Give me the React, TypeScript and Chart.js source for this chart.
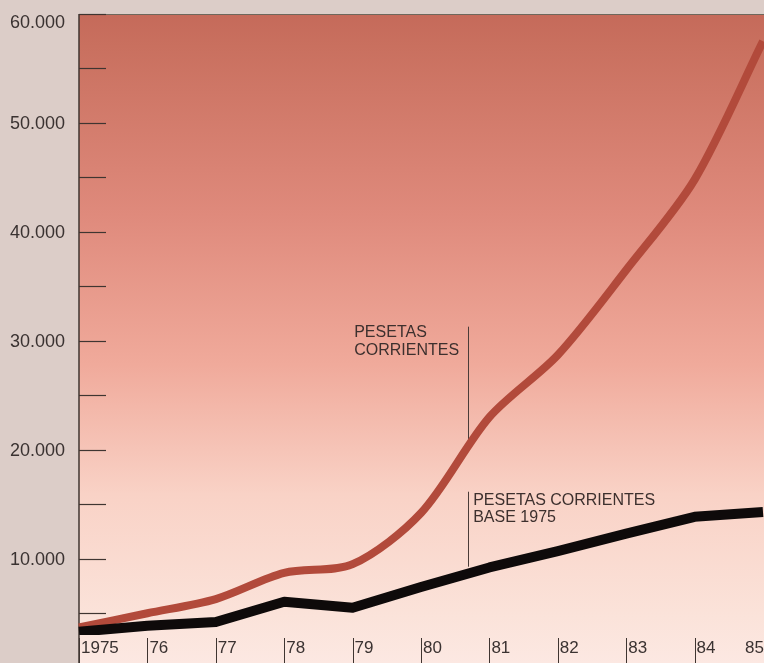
import React, { useEffect, useRef } from "react";
import { Chart, registerables } from "chart.js";

Chart.register(...registerables);

const years = ["1975", "1976", "1977", "1978", "1979", "1980", "1981", "1982", "1983", "1984", "1985"];
const xTickLabels = ["1975", "76", "77", "78", "79", "80", "81", "82", "83", "84", "85"];
const pesetasCorrientes = [3700, 5000, 6300, 8700, 9500, 14200, 23000, 28700, 36500, 44800, 57500];
const pesetasBase1975 = [3300, 3850, 4200, 6050, 5500, 7400, 9200, 10700, 12300, 13850, 14300];
const yLabelValues = [10000, 20000, 30000, 40000, 50000, 60000];
const yMinorValues = [5000, 15000, 25000, 35000, 45000, 55000];
const annotation1Lines = ["PESETAS", "CORRIENTES"];
const annotation2Lines = ["PESETAS CORRIENTES", "BASE 1975"];
// annotation anchors in data units: [x index, y top value, y bottom value]
const annotation1Anchor = [5.69, 31300, 20700];
const annotation2Anchor = [5.69, 16150, 9270];

const FONT = '"Liberation Sans", Arial, sans-serif';
const fmt = (v: number) => (v / 1000).toFixed(0) + ".000";

const decor = {
  id: "decor",
  beforeDraw(chart: any) {
    const { ctx, chartArea: a, width, height } = chart;
    ctx.save();
    ctx.fillStyle = "#dccdc8";
    ctx.fillRect(0, 0, width, height);
    const g = ctx.createLinearGradient(0, a.top, 0, height);
    g.addColorStop(0, "#c56a5a");
    g.addColorStop(0.05, "#c9705f");
    g.addColorStop(0.31, "#df8a7c");
    g.addColorStop(0.54, "#f0aa9b");
    g.addColorStop(0.74, "#f9d2c6");
    g.addColorStop(0.93, "#fbe3da");
    g.addColorStop(1, "#fce8e2");
    ctx.fillStyle = g;
    ctx.fillRect(a.left, a.top, width - a.left, height - a.top);
    ctx.restore();
  },
  beforeDatasetsDraw(chart: any) {
    const { ctx, chartArea: a, width, height, scales } = chart;
    const y = scales.y;
    const x = scales.x;
    ctx.save();
    // top border
    ctx.strokeStyle = "#6e675c";
    ctx.lineWidth = 1.2;
    ctx.beginPath();
    ctx.moveTo(a.left, a.top + 0.5);
    ctx.lineTo(width, a.top + 0.5);
    ctx.stroke();
    // left axis
    ctx.strokeStyle = "#3f3531";
    ctx.lineWidth = 1.5;
    ctx.beginPath();
    ctx.moveTo(a.left, a.top);
    ctx.lineTo(a.left, height);
    ctx.stroke();
    // y tick marks inside
    ctx.lineWidth = 1.2;
    [...yLabelValues, ...yMinorValues].forEach((v) => {
      const py = Math.round(y.getPixelForValue(v)) + 0.5;
      ctx.beginPath();
      ctx.moveTo(a.left, py);
      ctx.lineTo(a.left + 27, py);
      ctx.stroke();
    });
    // x tick marks
    ctx.lineWidth = 1;
    xTickLabels.forEach((_, i) => {
      if (i === xTickLabels.length - 1) return;
      const px = Math.round(x.getPixelForValue(i)) + 0.5;
      ctx.beginPath();
      ctx.moveTo(px, a.bottom + 3);
      ctx.lineTo(px, height);
      ctx.stroke();
    });
    // annotation lines
    ctx.strokeStyle = "#4a3c38";
    ctx.lineWidth = 1;
    [annotation1Anchor, annotation2Anchor].forEach((an) => {
      const px = Math.round(x.getPixelForValue(an[0])) + 0.5;
      ctx.beginPath();
      ctx.moveTo(px, y.getPixelForValue(an[1]));
      ctx.lineTo(px, y.getPixelForValue(an[2]));
      ctx.stroke();
    });
    ctx.restore();
  },
  afterDraw(chart: any) {
    const { ctx, chartArea: a, width, scales } = chart;
    const y = scales.y;
    const x = scales.x;
    ctx.save();
    ctx.fillStyle = "#3a3231";
    ctx.font = `18px ${FONT}`;
    ctx.textAlign = "right";
    ctx.textBaseline = "middle";
    yLabelValues.forEach((v) => {
      let py = y.getPixelForValue(v);
      if (py < a.top + 6) py = a.top + 8;
      ctx.fillText(fmt(v), a.left - 14, py + 1);
    });
    ctx.font = `17px ${FONT}`;
    xTickLabels.forEach((lab, i) => {
      const px = x.getPixelForValue(i);
      if (i === xTickLabels.length - 1) {
        ctx.textAlign = "right";
        ctx.fillText(lab, width, a.bottom + 13);
      } else {
        ctx.textAlign = "left";
        ctx.fillText(lab, px + 2, a.bottom + 13);
      }
    });
    // annotations
    ctx.font = `16px ${FONT}`;
    ctx.fillStyle = "#3d302e";
    ctx.textBaseline = "alphabetic";
    const l1x = x.getPixelForValue(annotation1Anchor[0]);
    const l1t = y.getPixelForValue(annotation1Anchor[1]);
    ctx.textAlign = "left";
    annotation1Lines.forEach((t, i) => ctx.fillText(t, l1x - 114, l1t + 10 + i * 18));
    const l2x = x.getPixelForValue(annotation2Anchor[0]);
    const l2t = y.getPixelForValue(annotation2Anchor[1]);
    annotation2Lines.forEach((t, i) => ctx.fillText(t, l2x + 5, l2t + 13 + i * 17));
    ctx.restore();
  },
};

export default function App() {
  const ref = useRef<HTMLCanvasElement>(null);
  useEffect(() => {
    document.body.style.margin = "0";
    const chart = new Chart(ref.current as HTMLCanvasElement, {
      type: "line",
      data: {
        labels: years,
        datasets: [
          {
            label: "Pesetas corrientes base 1975",
            data: pesetasBase1975,
            borderColor: "#0e0a0a",
            borderWidth: 10,
            pointRadius: 0,
            tension: 0,
            borderJoinStyle: "round",
          },
          {
            label: "Pesetas corrientes",
            data: pesetasCorrientes,
            borderColor: "#b24a3b",
            borderWidth: 8,
            pointRadius: 0,
            tension: 0.3,
            borderJoinStyle: "round",
          },
        ],
      },
      options: {
        responsive: false,
        animation: false,
        layout: { padding: { top: 14, right: 1, left: 0, bottom: 0 } },
        plugins: { legend: { display: false }, tooltip: { enabled: false } },
        scales: {
          x: {
            type: "category",
            offset: false,
            grid: { display: false },
            border: { display: false },
            ticks: { display: false },
            afterFit: (s: any) => {
              s.height = 28;
            },
          },
          y: {
            min: 3000,
            max: 60000,
            grid: { display: false },
            border: { display: false },
            ticks: { display: false },
            afterFit: (s: any) => {
              s.width = 79;
            },
          },
        },
      },
      plugins: [decor],
    } as any);
    return () => chart.destroy();
  }, []);
  return <canvas ref={ref} width={764} height={663} style={{ display: "block" }} />;
}
